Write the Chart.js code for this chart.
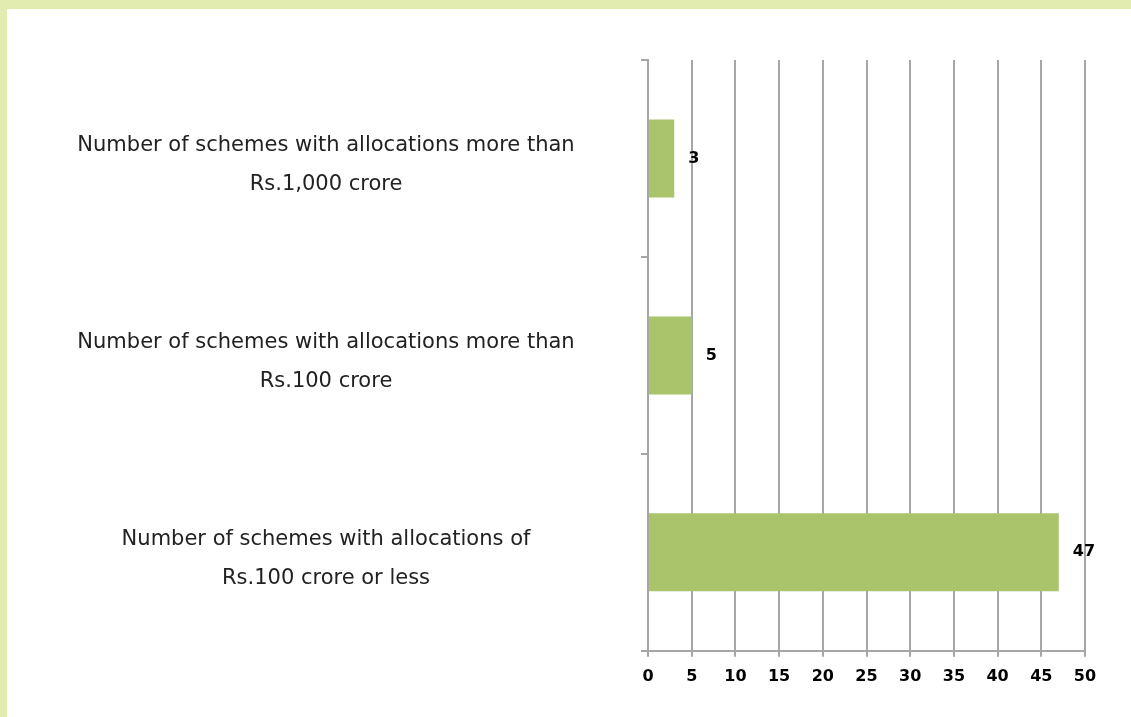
<!DOCTYPE html>
<html>
<head>
<meta charset="utf-8">
<script src="https://cdn.jsdelivr.net/npm/chart.js@4"></script>
<style>
  html, body { margin: 0; padding: 0; }
  body { background: #e3ecb0; width: 1131px; height: 717px; overflow: hidden; }
  #panel { position: absolute; left: 7px; top: 9px; width: 1124px; height: 708px; background: #ffffff; }
</style>
</head>
<body>
<div id="panel"><canvas id="schemesChart" width="1124" height="708"></canvas></div>
<script>
const categories = [
  ["Number of schemes with allocations more than", "Rs.1,000 crore"],
  ["Number of schemes with allocations more than", "Rs.100 crore"],
  ["Number of schemes with allocations of", "Rs.100 crore or less"]
];
const schemeCounts = [3, 5, 47];
const xTicks = [0, 5, 10, 15, 20, 25, 30, 35, 40, 45, 50];

const labelFont = { family: "DejaVu Sans", size: 21 };
const boldFont = { family: "DejaVu Sans", size: 16, weight: "bold" };

// push the centred category labels so their middle sits at x≈326
function labelPadding() {
  const c = document.createElement("canvas").getContext("2d");
  c.font = `${labelFont.size}px "${labelFont.family}"`;
  let widest = 0;
  categories.flat().forEach(t => { widest = Math.max(widest, c.measureText(t).width); });
  return 641 - 7 - 319 - widest / 2;
}

const valueLabels = {
  id: "valueLabels",
  afterDatasetsDraw(chart) {
    const ctx = chart.ctx;
    const meta = chart.getDatasetMeta(0);
    ctx.save();
    ctx.font = `bold 16px "DejaVu Sans"`;
    ctx.fillStyle = "#000";
    ctx.textAlign = "left";
    ctx.textBaseline = "middle";
    meta.data.forEach((bar, i) => {
      ctx.fillText(String(schemeCounts[i]), bar.x + 14, bar.y);
    });
    ctx.restore();
  }
};

function renderChart() {
  const ctx = document.getElementById("schemesChart").getContext("2d");
  new Chart(ctx, {
    type: "bar",
    data: {
      labels: categories,
      datasets: [{
        data: schemeCounts,
        backgroundColor: "#a9c46a",
        borderWidth: 0,
        barPercentage: 0.66,
        categoryPercentage: 0.6
      }]
    },
    options: {
      indexAxis: "y",
      responsive: false,
      animation: false,
      layout: { padding: { top: 51, right: 46, bottom: 21, left: 0 } },
      plugins: { legend: { display: false }, tooltip: { enabled: false } },
      scales: {
        x: {
          min: 0,
          max: 50,
          afterBuildTicks: scale => { scale.ticks = xTicks.map(v => ({ value: v })); },
          grid: { color: "#a6a6a6", lineWidth: 2, tickLength: 6 },
          border: { color: "#a6a6a6", width: 2 },
          ticks: { color: "#000", font: boldFont, padding: 10, maxRotation: 0 }
        },
        y: {
          afterFit: scale => {
            scale.width = 641;
            scale.paddingTop = 0;
            scale.paddingBottom = 0;
          },
          grid: { drawOnChartArea: false, color: "#a6a6a6", lineWidth: 2, tickLength: 7 },
          border: { color: "#a6a6a6", width: 2 },
          ticks: {
            color: "#222",
            font: Object.assign({ lineHeight: 1.85 }, labelFont),
            crossAlign: "center",
            labelOffset: 7,
            padding: labelPadding()
          }
        }
      }
    },
    plugins: [valueLabels]
  });
}

document.addEventListener("DOMContentLoaded", renderChart);
</script>
</body>
</html>
